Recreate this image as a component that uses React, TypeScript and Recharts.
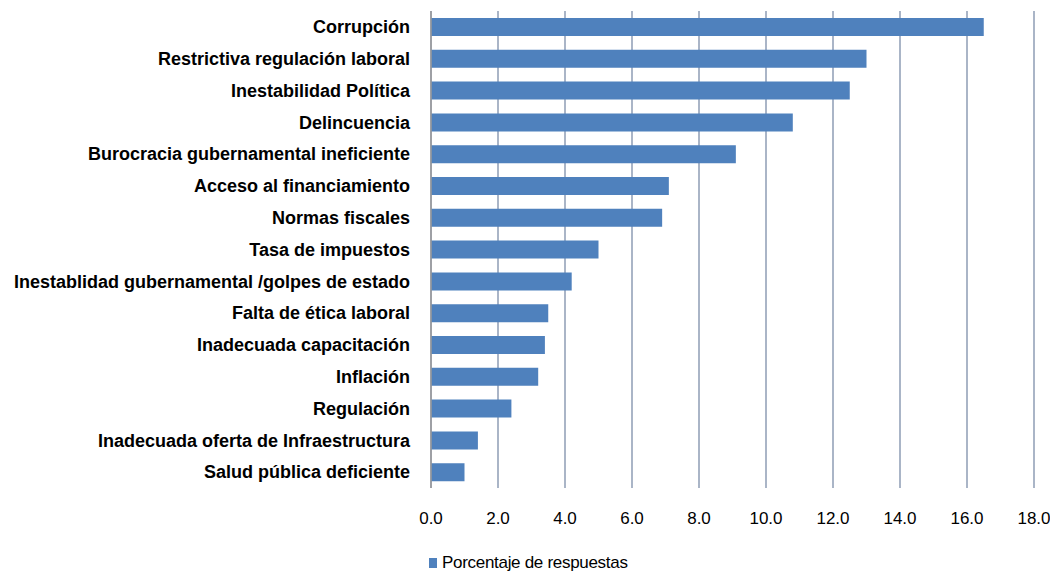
import { Bar, BarChart, CartesianGrid, Legend, XAxis, YAxis } from "recharts";

const categories = [
  "Corrupción",
  "Restrictiva regulación laboral",
  "Inestabilidad Política",
  "Delincuencia",
  "Burocracia gubernamental ineficiente",
  "Acceso al financiamiento",
  "Normas fiscales",
  "Tasa de impuestos",
  "Inestablidad gubernamental /golpes de estado",
  "Falta de ética laboral",
  "Inadecuada capacitación",
  "Inflación",
  "Regulación",
  "Inadecuada oferta de Infraestructura",
  "Salud pública deficiente",
];

const porcentaje = [16.5, 13.0, 12.5, 10.8, 9.1, 7.1, 6.9, 5.0, 4.2, 3.5, 3.4, 3.2, 2.4, 1.4, 1.0];

const xTicks = [0, 2, 4, 6, 8, 10, 12, 14, 16, 18];

const seriesName = "Porcentaje de respuestas";

const data = categories.map((name, i) => ({ name, value: porcentaje[i] }));

const FONT = '"Liberation Sans", Arial, sans-serif';
const BAR_COLOR = "#4F81BD";

// legend marker + text, positioned under the axis labels
const LegendContent = () => (
  <div style={{ display: "flex", alignItems: "flex-start", fontFamily: FONT, fontSize: 17, color: "#000" }}>
    <span style={{ width: 8, height: 10, background: BAR_COLOR, marginTop: 4, marginRight: 5 }} />
    <span style={{ lineHeight: "17px", letterSpacing: "-0.3px" }}>{seriesName}</span>
  </div>
);

export default function App() {
  return (
    <div style={{ width: 1050, height: 573, overflow: "hidden", background: "#fff" }}>
      <style>{"body{margin:0}"}</style>
      <BarChart
        width={1050}
        height={573}
        data={data}
        layout="vertical"
        margin={{ top: 11, right: 16, left: 0, bottom: 0 }}
      >
        <CartesianGrid horizontal={false} stroke="#8E9CB5" strokeWidth={1.5} />
        <XAxis
          type="number"
          domain={[0, 18]}
          ticks={xTicks}
          tickFormatter={(v: number) => v.toFixed(1)}
          axisLine={false}
          tickLine={false}
          tickSize={0}
          tickMargin={24}
          height={85}
          interval={0}
          tick={{ fontSize: 17, fill: "#000", fontFamily: FONT }}
        />
        <YAxis
          type="category"
          dataKey="name"
          width={431}
          tickLine={false}
          tickSize={0}
          tickMargin={21}
          interval={0}
          axisLine={{ stroke: "#9A9A9A", strokeWidth: 1.5 }}
          tick={{ fontSize: 18, fontWeight: "bold", fill: "#000", fontFamily: FONT }}
        />
        <Legend
          layout="horizontal"
          verticalAlign="middle"
          align="center"
          content={<LegendContent />}
          wrapperStyle={{ top: 554, left: 429, width: "auto", height: 18 }}
        />
        <Bar dataKey="value" name={seriesName} fill={BAR_COLOR} barSize={18} isAnimationActive={false} />
      </BarChart>
    </div>
  );
}
